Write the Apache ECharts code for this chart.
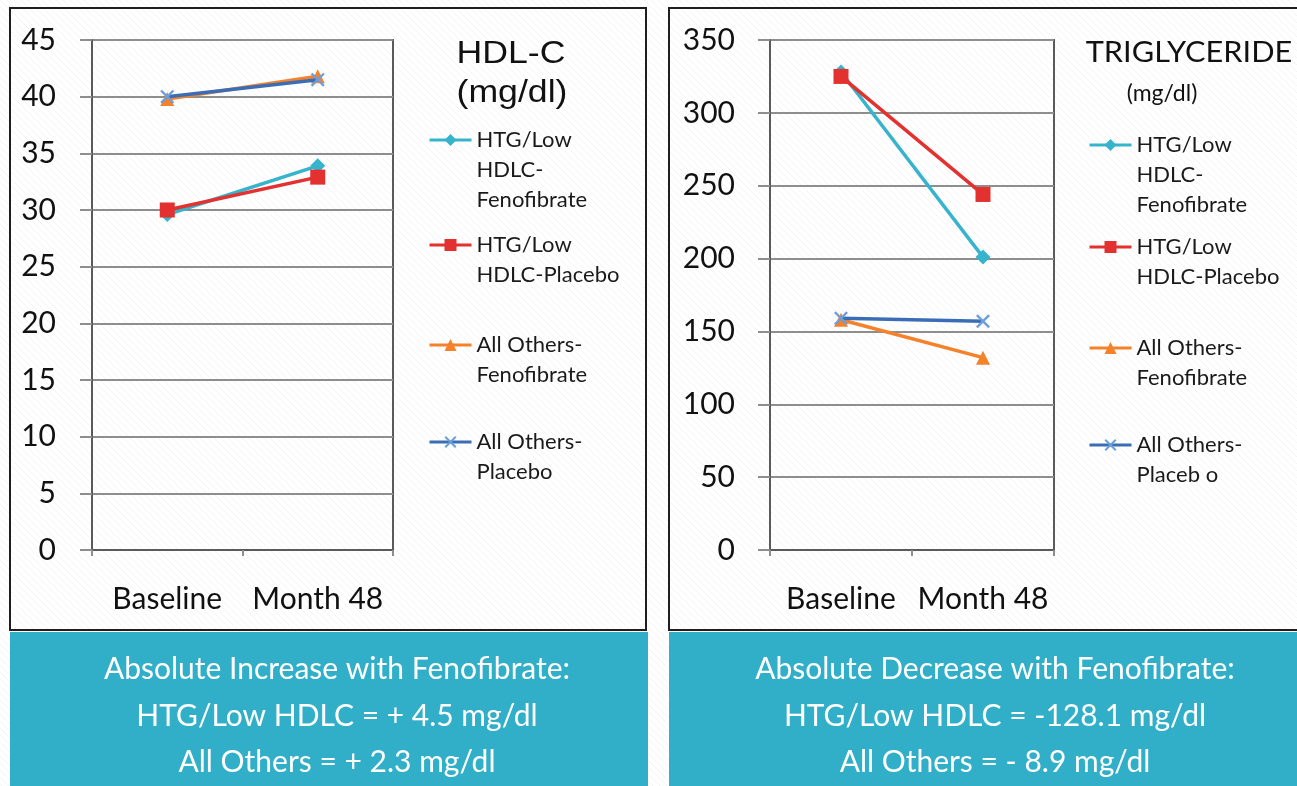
<!DOCTYPE html>
<html>
<head>
<meta charset="utf-8">
<script src="https://cdn.jsdelivr.net/npm/echarts@6/dist/echarts.min.js"></script>
<style>
  html, body { margin: 0; padding: 0; background: #ffffff; }
  #chart { width: 1297px; height: 786px; }
</style>
</head>
<body>
<div id="chart"></div>
<script>
// Visit labels on the x axis
const categories = ['Baseline', 'Month 48'];

// Series (same four groups in both panels)
const seriesNames = [
  'HTG/Low HDLC-Fenofibrate',
  'HTG/Low HDLC-Placebo',
  'All Others-Fenofibrate',
  'All Others-Placebo'
];

// HDL-C, mg/dl
const hdlHtgFeno = [29.6, 33.9];
const hdlHtgPlacebo = [30.0, 32.9];
const hdlOthersFeno = [39.8, 41.8];
const hdlOthersPlacebo = [40.0, 41.5];

// Triglyceride, mg/dl
const tgHtgFeno = [328, 201];
const tgHtgPlacebo = [325, 244];
const tgOthersFeno = [158, 132];
const tgOthersPlacebo = [159, 157];

// Value axis ranges: [min, max, step]
const hdlAxisRange = [0, 45, 5];
const tgAxisRange = [0, 350, 50];

// Legend wording in each panel
const hdlLegendLabels = ['HTG/Low\nHDLC-\nFenofibrate', 'HTG/Low\nHDLC-Placebo', 'All Others-\nFenofibrate', 'All Others-\nPlacebo'];
const tgLegendLabels = ['HTG/Low\nHDLC-\nFenofibrate', 'HTG/Low\nHDLC-Placebo', 'All Others-\nFenofibrate', 'All Others-\nPlaceb o'];

// Summary text under each panel
const hdlSummary = ['Absolute Increase with Fenofibrate:', 'HTG/Low HDLC = + 4.5 mg/dl', 'All Others = + 2.3 mg/dl'];
const tgSummary = ['Absolute Decrease with Fenofibrate:', 'HTG/Low HDLC = -128.1 mg/dl', 'All Others = - 8.9 mg/dl'];

const BODY_FONT = 'Lato';
const TEAL = '#32afc8';

// styling per group: line colour, marker colour, marker symbol, marker size
const X_MARK = 'path://M0,1.2L1.2,0L5,3.8L8.8,0L10,1.2L6.2,5L10,8.8L8.8,10L5,6.2L1.2,10L0,8.8L3.8,5Z';
const looks = [
  { line: '#37b3cc', mark: '#37b3cc', symbol: 'diamond', size: 15 },
  { line: '#e2312f', mark: '#e2312f', symbol: 'rect', size: 15 },
  { line: '#f5812a', mark: '#f5812a', symbol: 'triangle', size: 14 },
  { line: '#3a6db6', mark: '#6e9ed8', symbol: X_MARK, size: 14 }
];

// faint diagonal hatch used as the page background
const hatch = document.createElement('canvas');
hatch.width = 7; hatch.height = 7;
(function () {
  const c = hatch.getContext('2d');
  c.fillStyle = '#ffffff';
  c.fillRect(0, 0, 7, 7);
  c.strokeStyle = 'rgba(0,0,0,0.045)';
  c.lineWidth = 1;
  c.beginPath();
  c.moveTo(-1, -1); c.lineTo(8, 8);
  c.moveTo(-1, 6); c.lineTo(1, 8);
  c.moveTo(6, -1); c.lineTo(8, 1);
  c.stroke();
})();

function lineSeries(i, values, axisIndex) {
  const lk = looks[i];
  return {
    type: 'line',
    name: seriesNames[i],
    data: values,
    xAxisIndex: axisIndex,
    yAxisIndex: axisIndex,
    symbol: lk.symbol,
    symbolSize: lk.size,
    showAllSymbol: true,
    lineStyle: { color: lk.line, width: 3.5 },
    itemStyle: { color: lk.mark },
    emphasis: { disabled: true },
    animation: false,
    z: 3 + i
  };
}

function valueAxis(range, gridIndex, margin) {
  return {
    type: 'value',
    gridIndex: gridIndex,
    min: range[0], max: range[1], interval: range[2],
    axisLine: { show: true, lineStyle: { color: '#5a5a5a', width: 2 } },
    axisTick: { show: true, length: 12, lineStyle: { color: '#8e8e8e', width: 2 } },
    axisLabel: { margin: margin, fontFamily: BODY_FONT, fontSize: 30, color: '#111' },
    splitLine: { show: true, lineStyle: { color: '#8e8e8e', width: 2 } }
  };
}

function categoryAxis(gridIndex) {
  return {
    type: 'category',
    gridIndex: gridIndex,
    data: categories,
    boundaryGap: true,
    axisLine: { show: true, lineStyle: { color: '#5a5a5a', width: 2 } },
    axisTick: { show: true, length: 6, lineStyle: { color: '#8e8e8e', width: 2 } },
    axisLabel: { interval: 0, hideOverlap: false, margin: 34, fontFamily: BODY_FONT, fontSize: 30, color: '#111' }
  };
}

// one legend block per series so each sits at its own height; blank lines above the
// label keep the marker level with the label's first line
const LINE_H = 30;
function legendItem(i, left, firstLineY, labels) {
  const n = labels[i].split('\n').length;
  const pad = new Array(n).join('\n');
  return {
    data: [seriesNames[i]],
    orient: 'vertical',
    left: left,
    top: firstLineY - LINE_H / 2 - (n - 1) * LINE_H,
    padding: 0,
    itemWidth: 42,
    itemHeight: 15,
    selectedMode: false,
    lineStyle: { width: 3 },
    formatter: function () { return pad + labels[i]; },
    textStyle: {
      fontFamily: BODY_FONT, fontSize: 22, color: '#1a1a1a',
      lineHeight: LINE_H
    }
  };
}

const hdlLegendY = [140, 245, 345, 442];
const tgLegendY = [145, 247, 348, 445];

function textEl(x, y, text, size, family, color, sx) {
  return {
    type: 'text', x: x, y: y, z: 20, scaleX: sx || 1,
    style: { text: text, fontSize: size, fontFamily: family, fill: color, align: 'center', verticalAlign: 'middle' }
  };
}

const graphics = [
  // panel frames
  { type: 'rect', z: 0, shape: { x: 10, y: 8, width: 636, height: 622 },
    style: { fill: 'none', stroke: '#1e1e1e', lineWidth: 2 } },
  { type: 'rect', z: 0, shape: { x: 669, y: 8, width: 660, height: 622 },
    style: { fill: 'none', stroke: '#1e1e1e', lineWidth: 2 } },
  // summary bands
  { type: 'rect', z: 10, shape: { x: 10, y: 632, width: 638, height: 160 }, style: { fill: TEAL } },
  { type: 'rect', z: 10, shape: { x: 669, y: 632, width: 640, height: 160 }, style: { fill: TEAL } },
  // panel titles
  textEl(511, 54, 'HDL-C', 31, 'Liberation Sans', '#111', 1.15),
  textEl(512, 93, '(mg/dl)', 31, 'Liberation Sans', '#111', 1.15),
  textEl(1189, 53, 'TRIGLYCERIDE', 29, BODY_FONT, '#111', 1.06),
  textEl(1162, 94, '(mg/dl)', 23, BODY_FONT, '#111')
];
const summaryY = [669, 716, 762];
hdlSummary.forEach(function (t, k) { graphics.push(textEl(337, summaryY[k], t, 30, BODY_FONT, '#ffffff')); });
tgSummary.forEach(function (t, k) { graphics.push(textEl(995, summaryY[k], t, 30, BODY_FONT, '#ffffff')); });

const chart = echarts.init(document.getElementById('chart'), null, { renderer: 'canvas' });
chart.setOption({
  animation: false,
  backgroundColor: { image: hatch, repeat: 'repeat' },
  grid: [
    { left: 92, top: 40, width: 301, height: 510, show: true, borderColor: '#5a5a5a', borderWidth: 2, backgroundColor: 'transparent' },
    { left: 770, top: 40, width: 284, height: 510, show: true, borderColor: '#5a5a5a', borderWidth: 2, backgroundColor: 'transparent' }
  ],
  xAxis: [categoryAxis(0), categoryAxis(1)],
  yAxis: [valueAxis(hdlAxisRange, 0, 36), valueAxis(tgAxisRange, 1, 35)],
  legend: [0, 1, 2, 3].map(function (i) { return legendItem(i, 428, hdlLegendY[i], hdlLegendLabels); })
    .concat([0, 1, 2, 3].map(function (i) { return legendItem(i, 1088, tgLegendY[i], tgLegendLabels); })),
  tooltip: { show: false },
  graphic: graphics,
  series: [
    lineSeries(0, hdlHtgFeno, 0),
    lineSeries(1, hdlHtgPlacebo, 0),
    lineSeries(2, hdlOthersFeno, 0),
    lineSeries(3, hdlOthersPlacebo, 0),
    lineSeries(0, tgHtgFeno, 1),
    lineSeries(1, tgHtgPlacebo, 1),
    lineSeries(2, tgOthersFeno, 1),
    lineSeries(3, tgOthersPlacebo, 1)
  ]
});
</script>
</body>
</html>
